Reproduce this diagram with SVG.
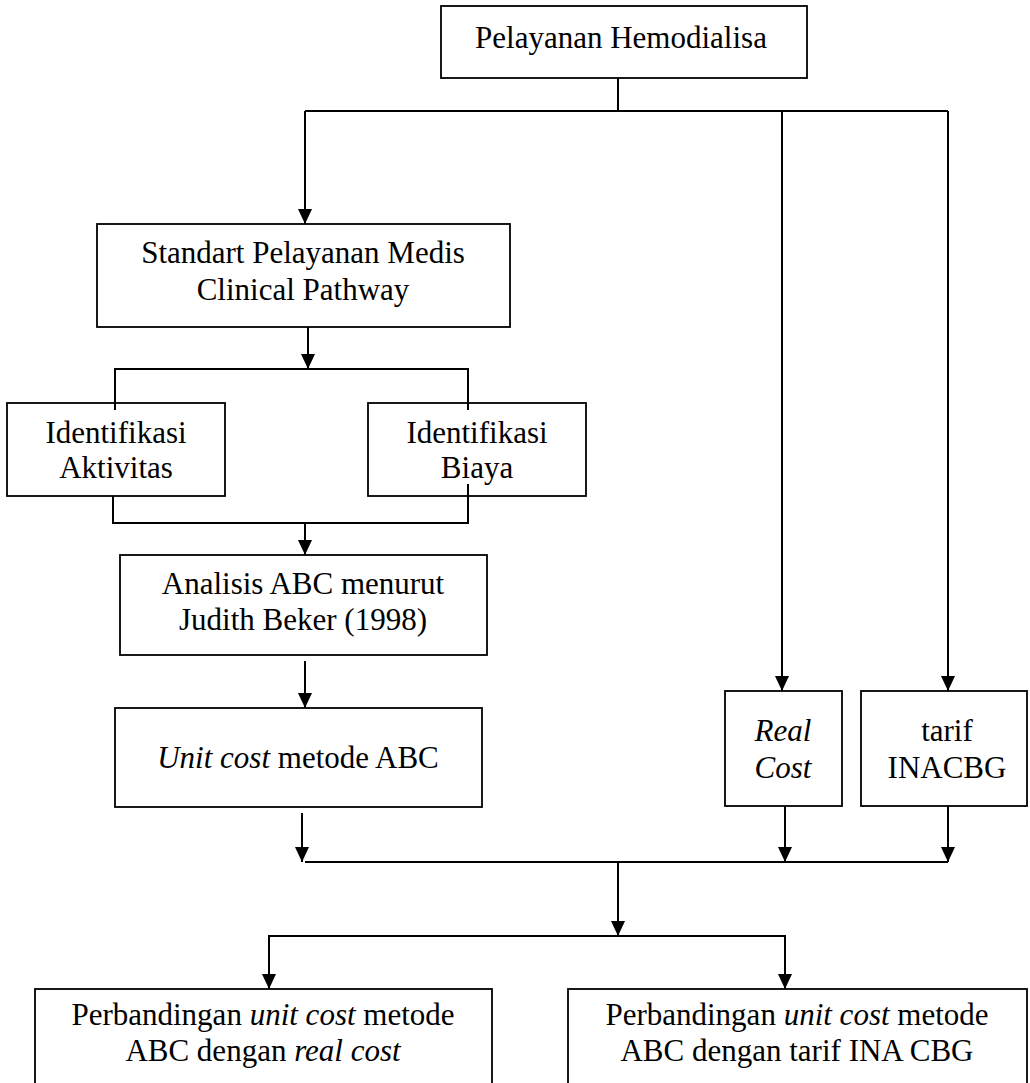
<svg xmlns="http://www.w3.org/2000/svg" width="1030" height="1083" viewBox="0 0 1030 1083">
<style>
.box{fill:#fff;stroke:#000;stroke-width:1.8}
.ln{fill:none;stroke:#000;stroke-width:2}
text{font-family:'Liberation Serif','DejaVu Serif','Times New Roman',serif;font-size:31px;fill:#000;text-anchor:middle}
.i{font-style:italic}
</style>
<defs>
<marker id="ah" markerUnits="userSpaceOnUse" markerWidth="15" markerHeight="14" viewBox="0 0 15 14" refX="15" refY="7" orient="auto">
<path d="M0,0 L15,7 L0,14 z" fill="#000"/>
</marker>
</defs>
<rect width="1030" height="1083" fill="#fff"/>
<g id="n-top">
<rect class="box" x="441" y="6" width="366" height="72"/>
<text font-family="Liberation Serif, serif" x="621" y="48">Pelayanan Hemodialisa</text>
</g>
<g id="n-standart">
<rect class="box" x="97" y="224" width="413" height="103"/>
<text font-family="Liberation Serif, serif" x="303" y="263">Standart Pelayanan Medis</text>
<text font-family="Liberation Serif, serif" x="303" y="300">Clinical Pathway</text>
</g>
<g id="n-aktivitas">
<rect class="box" x="7" y="403" width="218" height="93"/>
<text font-family="Liberation Serif, serif" x="116" y="443">Identifikasi</text>
<text font-family="Liberation Serif, serif" x="116" y="478">Aktivitas</text>
</g>
<g id="n-biaya">
<rect class="box" x="368" y="403" width="218" height="93"/>
<text font-family="Liberation Serif, serif" x="477" y="443">Identifikasi</text>
<text font-family="Liberation Serif, serif" x="477" y="478">Biaya</text>
</g>
<g id="n-analisis">
<rect class="box" x="120" y="555" width="367" height="100"/>
<text font-family="Liberation Serif, serif" x="303" y="594">Analisis ABC menurut</text>
<text font-family="Liberation Serif, serif" x="303" y="630">Judith Beker (1998)</text>
</g>
<g id="n-unitcost">
<rect class="box" x="115" y="708" width="367" height="99"/>
<text font-family="Liberation Serif, serif" x="298" y="768"><tspan class="i">Unit cost</tspan> metode ABC</text>
</g>
<g id="n-realcost">
<rect class="box" x="725" y="691" width="117" height="115"/>
<text font-family="Liberation Serif, serif" class="i" x="783" y="741">Real</text>
<text font-family="Liberation Serif, serif" class="i" x="783" y="778">Cost</text>
</g>
<g id="n-tarif">
<rect class="box" x="861" y="691" width="166" height="115"/>
<text font-family="Liberation Serif, serif" x="947" y="741">tarif</text>
<text font-family="Liberation Serif, serif" x="947" y="778">INACBG</text>
</g>
<g id="n-cmp-real">
<rect class="box" x="35" y="989" width="457" height="110"/>
<text font-family="Liberation Serif, serif" x="263" y="1025">Perbandingan <tspan class="i">unit cost</tspan> metode</text>
<text font-family="Liberation Serif, serif" x="263" y="1061">ABC dengan <tspan class="i">real cost</tspan></text>
</g>
<g id="n-cmp-tarif">
<rect class="box" x="568" y="989" width="459" height="110"/>
<text font-family="Liberation Serif, serif" x="797" y="1025">Perbandingan <tspan class="i">unit cost</tspan> metode</text>
<text font-family="Liberation Serif, serif" x="797" y="1061">ABC dengan tarif INA CBG</text>
</g>
<g id="connectors">
<path class="ln" d="M618,78 V111 M305,111 H948"/>
<path class="ln" d="M305,111 V224" marker-end="url(#ah)"/>
<path class="ln" d="M782,111 V691" marker-end="url(#ah)"/>
<path class="ln" d="M948,111 V691" marker-end="url(#ah)"/>
<path class="ln" d="M308,327 V369" marker-end="url(#ah)"/>
<path class="ln" d="M115,410 V369 H468 V410"/>
<path class="ln" d="M113,496 V523 H468 V484"/>
<path class="ln" d="M305,523 V555" marker-end="url(#ah)"/>
<path class="ln" d="M305,661 V708" marker-end="url(#ah)"/>
<path class="ln" d="M302,813 V862" marker-end="url(#ah)"/>
<path class="ln" d="M305,862 H948"/>
<path class="ln" d="M785,806 V862" marker-end="url(#ah)"/>
<path class="ln" d="M948,806 V862" marker-end="url(#ah)"/>
<path class="ln" d="M618,862 V936" marker-end="url(#ah)"/>
<path class="ln" d="M269,989 V936 H785 V989"/>
<path class="ln" d="M269,936 V989" marker-end="url(#ah)"/>
<path class="ln" d="M785,936 V989" marker-end="url(#ah)"/>
</g>
</svg>
